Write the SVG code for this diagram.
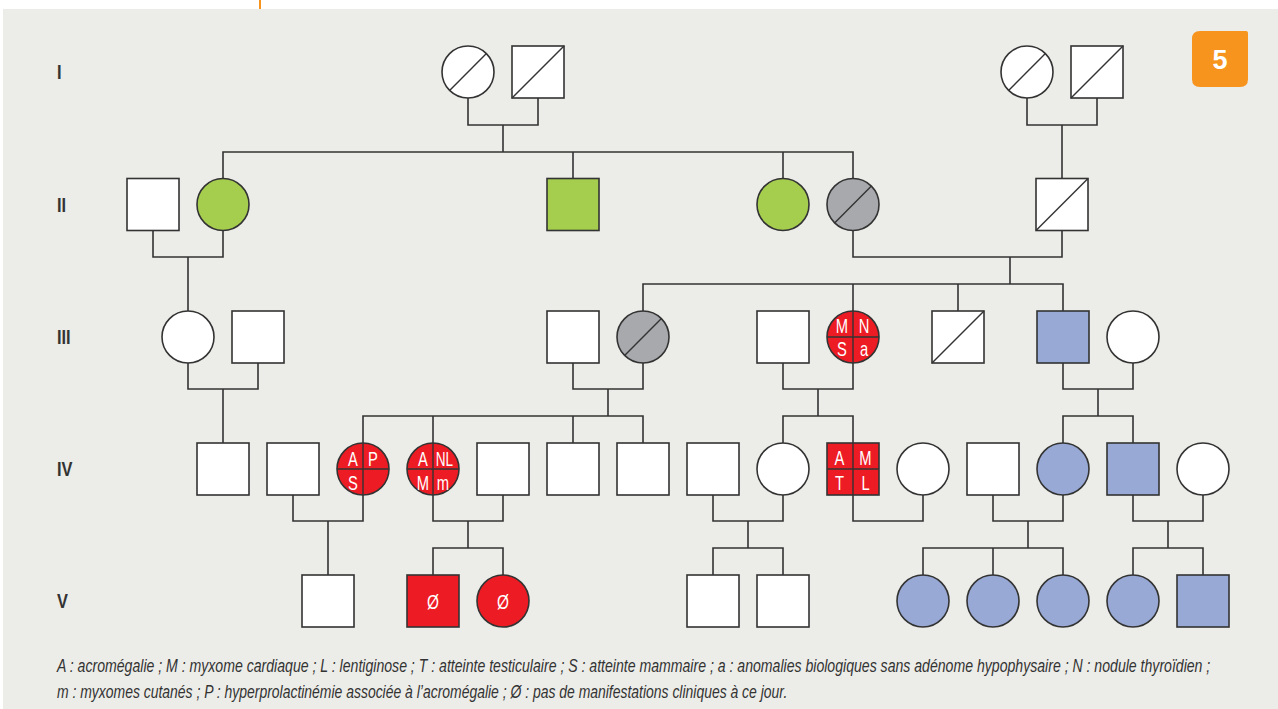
<svg xmlns="http://www.w3.org/2000/svg" width="1278" height="709" viewBox="0 0 1278 709">
<defs>
<style>
.bg{fill:#ECECE8}
.n{stroke:#333;stroke-width:1.6}
.w{fill:#fff}
.g{fill:#A6CE4E}
.gr{fill:#A7A9AC}
.b{fill:#97A9D4}
.r{fill:#ED1C24}
.d{stroke:#333;stroke-width:1.4;fill:none}
.c path{stroke:#333;stroke-width:1.6;fill:none}
.gen{font-family:"Liberation Sans",Arial,sans-serif;font-weight:bold;font-size:21px;fill:#333}
.lbl{font-family:"Liberation Sans",Arial,sans-serif;font-size:20.5px;fill:#fff;text-anchor:middle}
.leg{font-family:"Liberation Sans",Arial,sans-serif;font-style:italic;font-size:18px;fill:#333}
</style>
</defs>
<rect x="0" y="0" width="1278" height="709" fill="#fff"/>
<rect class="bg" x="3" y="9" width="1275" height="700"/>
<line x1="260" y1="0" x2="260" y2="9" stroke="#F7941D" stroke-width="2"/>

<g id="badge">
<path d="M1200,31 H1246 Q1248,31 1248,33 V79 Q1248,87 1240,87 H1200 Q1192,87 1192,79 V39 Q1192,31 1200,31 Z" fill="#F7941D"/>
<text x="1220" y="69" font-family="Liberation Sans, sans-serif" font-weight="bold" font-size="27" fill="#fff" text-anchor="middle">5</text>
</g>

<g id="generation-labels">
<text class="gen" transform="translate(57,79) scale(0.78,1)">I</text>
<text class="gen" transform="translate(57,212) scale(0.78,1)">II</text>
<text class="gen" transform="translate(57,344) scale(0.78,1)">III</text>
<text class="gen" transform="translate(57,476) scale(0.78,1)">IV</text>
<text class="gen" transform="translate(57,608) scale(0.78,1)">V</text>
</g>

<g id="connectors" class="c">
<path d="M468,98 V125 H538 V98"/>
<path d="M503,125 V152"/>
<path d="M223,178.5 V152 H853 V178.5"/>
<path d="M573,152 V178.5"/>
<path d="M783,152 V178.5"/>
<path d="M1027,98 V125 H1097 V98"/>
<path d="M1062,125 V178.5"/>
<path d="M153,230.5 V257 H223 V230.5"/>
<path d="M188,257 V311"/>
<path d="M853,230.5 V257 H1062 V230.5"/>
<path d="M1010,257 V284"/>
<path d="M643,311 V284 H1063 V311"/>
<path d="M853,284 V311"/>
<path d="M958,284 V311"/>
<path d="M188,363 V389 H258 V363"/>
<path d="M223,389 V443"/>
<path d="M573,363 V389 H643 V363"/>
<path d="M608,389 V416"/>
<path d="M363,443 V416 H643 V443"/>
<path d="M433,416 V443"/>
<path d="M573,416 V443"/>
<path d="M783,363 V389 H853 V363"/>
<path d="M818,389 V416"/>
<path d="M783,443 V416 H853 V443"/>
<path d="M1063,363 V389 H1133 V363"/>
<path d="M1098,389 V416"/>
<path d="M1063,443 V416 H1133 V443"/>
<path d="M293,495 V521 H363 V495"/>
<path d="M328,521 V575"/>
<path d="M433,495 V521 H503 V495"/>
<path d="M468,521 V548"/>
<path d="M433,575 V548 H503 V575"/>
<path d="M713,495 V521 H783 V495"/>
<path d="M748,521 V548"/>
<path d="M713,575 V548 H783 V575"/>
<path d="M853,495 V521 H923 V495"/>
<path d="M993,495 V521 H1063 V495"/>
<path d="M1028,521 V548"/>
<path d="M923,575 V548 H1063 V575"/>
<path d="M993,548 V575"/>
<path d="M1133,495 V521 H1203 V495"/>
<path d="M1168,521 V548"/>
<path d="M1133,575 V548 H1203 V575"/>
</g>

<g id="I-1"><circle class="n w" cx="468" cy="72" r="26"/><line class="d" x1="449.6" y1="90.4" x2="486.4" y2="53.6"/></g>
<g id="I-2"><rect class="n w" x="512" y="46" width="52" height="52"/><line class="d" x1="512" y1="98" x2="564" y2="46"/></g>
<g id="I-3"><circle class="n w" cx="1027" cy="72" r="26"/><line class="d" x1="1008.6" y1="90.4" x2="1045.4" y2="53.6"/></g>
<g id="I-4"><rect class="n w" x="1071" y="46" width="52" height="52"/><line class="d" x1="1071" y1="98" x2="1123" y2="46"/></g>

<g id="II-1"><rect class="n w" x="127" y="178.5" width="52" height="52"/></g>
<g id="II-2"><circle class="n g" cx="223" cy="204.5" r="26"/></g>
<g id="II-3"><rect class="n g" x="547" y="178.5" width="52" height="52"/></g>
<g id="II-4"><circle class="n g" cx="783" cy="204.5" r="26"/></g>
<g id="II-5"><circle class="n gr" cx="853" cy="204.5" r="26"/><line class="d" x1="834.6" y1="222.9" x2="871.4" y2="186.1"/></g>
<g id="II-6"><rect class="n w" x="1036" y="178.5" width="52" height="52"/><line class="d" x1="1036" y1="230.5" x2="1088" y2="178.5"/></g>

<g id="III-1"><circle class="n w" cx="188" cy="337" r="26"/></g>
<g id="III-2"><rect class="n w" x="232" y="311" width="52" height="52"/></g>
<g id="III-3"><rect class="n w" x="547" y="311" width="52" height="52"/></g>
<g id="III-4"><circle class="n gr" cx="643" cy="337" r="26"/><line class="d" x1="624.6" y1="355.4" x2="661.4" y2="318.6"/></g>
<g id="III-5"><rect class="n w" x="757" y="311" width="52" height="52"/></g>
<g id="III-6"><circle class="n r" cx="853" cy="337" r="26"/><line class="d" x1="827" y1="337" x2="879" y2="337"/><line class="d" x1="853" y1="311" x2="853" y2="363"/>
<text class="lbl" transform="translate(842,332.5) scale(0.72,1)">M</text><text class="lbl" transform="translate(864,332.5) scale(0.72,1)">N</text><text class="lbl" transform="translate(842,355.5) scale(0.72,1)">S</text><text class="lbl" transform="translate(864,355.5) scale(0.72,1)">a</text></g>
<g id="III-7"><rect class="n w" x="932" y="311" width="52" height="52"/><line class="d" x1="932" y1="363" x2="984" y2="311"/></g>
<g id="III-8"><rect class="n b" x="1037" y="311" width="52" height="52"/></g>
<g id="III-9"><circle class="n w" cx="1133" cy="337" r="26"/></g>

<g id="IV-1"><rect class="n w" x="197" y="443" width="52" height="52"/></g>
<g id="IV-2"><rect class="n w" x="267" y="443" width="52" height="52"/></g>
<g id="IV-3"><circle class="n r" cx="363" cy="469" r="26"/><line class="d" x1="337" y1="469" x2="389" y2="469"/><line class="d" x1="363" y1="443" x2="363" y2="495"/>
<text class="lbl" transform="translate(353,466) scale(0.72,1)">A</text><text class="lbl" transform="translate(373,466) scale(0.72,1)">P</text><text class="lbl" transform="translate(353,490) scale(0.72,1)">S</text></g>
<g id="IV-4"><circle class="n r" cx="433" cy="469" r="26"/><line class="d" x1="407" y1="469" x2="459" y2="469"/><line class="d" x1="433" y1="443" x2="433" y2="495"/>
<text class="lbl" transform="translate(423,466) scale(0.72,1)">A</text><text class="lbl" transform="translate(444.5,466) scale(0.66,1)">NL</text><text class="lbl" transform="translate(423,490) scale(0.72,1)">M</text><text class="lbl" transform="translate(443,490) scale(0.72,1)">m</text></g>
<g id="IV-5"><rect class="n w" x="477" y="443" width="52" height="52"/></g>
<g id="IV-6"><rect class="n w" x="547" y="443" width="52" height="52"/></g>
<g id="IV-7"><rect class="n w" x="617" y="443" width="52" height="52"/></g>
<g id="IV-8"><rect class="n w" x="687" y="443" width="52" height="52"/></g>
<g id="IV-9"><circle class="n w" cx="783" cy="469" r="26"/></g>
<g id="IV-10"><rect class="n r" x="827" y="443" width="52" height="52"/><line class="d" x1="827" y1="469" x2="879" y2="469"/><line class="d" x1="853" y1="443" x2="853" y2="495"/>
<text class="lbl" transform="translate(839.5,465) scale(0.72,1)">A</text><text class="lbl" transform="translate(865.5,465) scale(0.72,1)">M</text><text class="lbl" transform="translate(839.5,490) scale(0.72,1)">T</text><text class="lbl" transform="translate(865.5,490) scale(0.72,1)">L</text></g>
<g id="IV-11"><circle class="n w" cx="923" cy="469" r="26"/></g>
<g id="IV-12"><rect class="n w" x="967" y="443" width="52" height="52"/></g>
<g id="IV-13"><circle class="n b" cx="1063" cy="469" r="26"/></g>
<g id="IV-14"><rect class="n b" x="1107" y="443" width="52" height="52"/></g>
<g id="IV-15"><circle class="n w" cx="1203" cy="469" r="26"/></g>

<g id="V-1"><rect class="n w" x="302" y="575" width="52" height="52"/></g>
<g id="V-2"><rect class="n r" x="407" y="575" width="52" height="52"/><text class="lbl" transform="translate(433,609) scale(0.75,1)">Ø</text></g>
<g id="V-3"><circle class="n r" cx="503" cy="601" r="26"/><text class="lbl" transform="translate(503,609) scale(0.75,1)">Ø</text></g>
<g id="V-4"><rect class="n w" x="687" y="575" width="52" height="52"/></g>
<g id="V-5"><rect class="n w" x="757" y="575" width="52" height="52"/></g>
<g id="V-6"><circle class="n b" cx="923" cy="601" r="26"/></g>
<g id="V-7"><circle class="n b" cx="993" cy="601" r="26"/></g>
<g id="V-8"><circle class="n b" cx="1063" cy="601" r="26"/></g>
<g id="V-9"><circle class="n b" cx="1133" cy="601" r="26"/></g>
<g id="V-10"><rect class="n b" x="1177" y="575" width="52" height="52"/></g>

<g id="legend">
<text class="leg" transform="translate(57,672) scale(0.68,1)" textLength="1696" lengthAdjust="spacingAndGlyphs">A : acromégalie ; M : myxome cardiaque ; L : lentiginose ; T : atteinte testiculaire ; S : atteinte mammaire ; a : anomalies biologiques sans adénome hypophysaire ; N : nodule thyroïdien ;</text>
<text class="leg" transform="translate(57,698) scale(0.68,1)" textLength="1074" lengthAdjust="spacingAndGlyphs">m : myxomes cutanés ; P : hyperprolactinémie associée à l’acromégalie ; Ø : pas de manifestations cliniques à ce jour.</text>
</g>
</svg>
